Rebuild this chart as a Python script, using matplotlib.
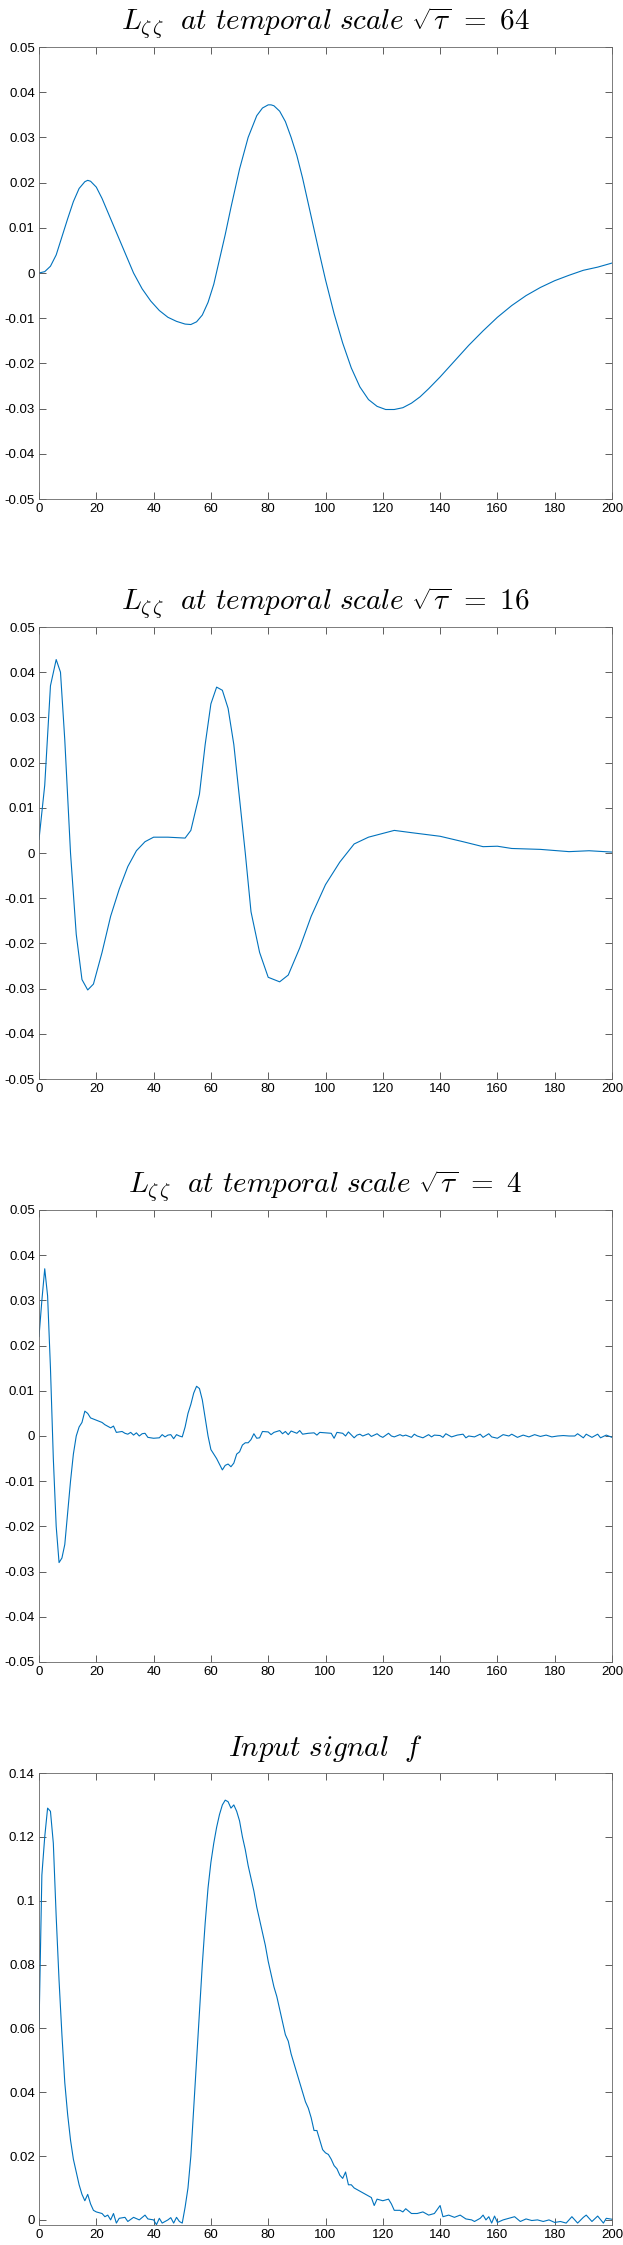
import matplotlib.pyplot as plt

plt.rcParams['mathtext.fontset'] = 'cm'
plt.rcParams['font.family'] = 'Liberation Sans'

# Panel 1: sqrt(tau) = 64
x64 = [0, 2, 4, 6, 8, 10, 12, 14, 16, 17, 18, 20, 22, 24, 27, 30, 33, 36, 39, 42, 45, 48, 51,
       53, 55, 57, 59, 61, 63, 65, 67, 70, 73, 76, 78, 80, 81, 82, 84, 86, 88, 90, 92, 95, 98,
       100, 103, 106, 109, 112, 115, 118, 121, 124, 127, 130, 133, 136, 140, 145, 150, 155, 160,
       165, 170, 175, 180, 185, 190, 195, 200]
y64 = [0, 0.0003, 0.0015, 0.004, 0.008, 0.012, 0.0158, 0.0187, 0.0202, 0.0205, 0.0203, 0.019,
       0.0165, 0.0135, 0.009, 0.0045, 0.0, -0.0035, -0.0062, -0.0083, -0.0098, -0.0107, -0.0113,
       -0.0114, -0.0108, -0.0093, -0.0065, -0.0025, 0.003, 0.0085, 0.0145, 0.023, 0.030, 0.0348,
       0.0365, 0.0372, 0.0372, 0.037, 0.0358, 0.0335, 0.030, 0.026, 0.021, 0.0125, 0.004, -0.0015,
       -0.009, -0.0155, -0.021, -0.0252, -0.028, -0.0295, -0.0302, -0.0302, -0.0298, -0.0288,
       -0.0274, -0.0256, -0.023, -0.0195, -0.016, -0.0128, -0.0098, -0.0072, -0.005, -0.0032,
       -0.0017, -0.0005, 0.0006, 0.0013, 0.0022]

# Panel 2: sqrt(tau) = 16
x16 = [0, 2, 4, 6, 7.5, 9, 11, 13, 15, 17, 19, 22, 25, 28, 31, 34, 37, 40, 45, 51, 53, 56, 58,
       60, 62, 64, 66, 68, 70, 72, 74, 77, 80, 84, 87, 91, 95, 100, 105, 110, 115, 124, 130, 140,
       148, 155, 160, 165, 175, 185, 192, 200]
y16 = [0.003, 0.015, 0.037, 0.0428, 0.040, 0.025, 0.0, -0.018, -0.028, -0.0303, -0.029, -0.022,
       -0.014, -0.008, -0.003, 0.0005, 0.0025, 0.0035, 0.0035, 0.0033, 0.005, 0.013, 0.024, 0.033,
       0.0367, 0.036, 0.032, 0.024, 0.012, 0.0, -0.013, -0.022, -0.0275, -0.0285, -0.027, -0.021,
       -0.014, -0.007, -0.002, 0.002, 0.0035, 0.005, 0.0045, 0.0037, 0.0025, 0.0014, 0.0015, 0.001,
       0.0008, 0.0003, 0.0005, 0.0002]

# Panel 3: sqrt(tau) = 4
x4 = [0, 1, 2, 3, 4, 5, 6, 7, 8, 9, 10, 11, 12, 13, 14, 15, 16, 17, 18, 20, 22, 23, 25, 26, 27,
      29, 30, 31, 32, 33, 34, 35, 36, 37, 38, 40, 42, 43, 44, 45, 46, 47, 48, 49, 50, 51, 52, 53,
      54, 55, 56, 57, 58, 59, 60, 62, 64, 65, 66, 67, 68, 69, 70, 71, 72, 73, 74, 75, 76, 77, 78,
      80, 81, 82, 84, 85, 86, 87, 88, 90, 91, 92, 94, 96, 97, 98, 100, 102, 103, 104, 106, 107,
      108, 110, 111, 112, 113, 115, 116, 118, 119, 120, 122, 123, 124, 126, 127, 128, 130, 131,
      132, 134, 136, 137, 138, 140, 141, 142, 144, 146, 148, 149, 150, 152, 154, 155, 157, 158,
      160, 162, 164, 165, 167, 169, 171, 173, 175, 177, 179, 181, 183, 185, 187, 188, 190, 191,
      193, 195, 196, 198, 200]
y4 = [0.022, 0.030, 0.037, 0.031, 0.015, -0.005, -0.020, -0.028, -0.027, -0.024, -0.017, -0.010,
      -0.004, 0.0, 0.002, 0.003, 0.0055, 0.005, 0.004, 0.0035, 0.003, 0.0025, 0.0018, 0.0022,
      0.0008, 0.001, 0.0006, 0.0004, 0.0008, 0.0002, 0.0007, 0.0, 0.0005, 0.0006, -0.0003, -0.0005,
      -0.0004, 0.0003, -0.0002, 0.0002, 0.0003, -0.0006, 0.0003, 0.0, -0.0002, 0.002, 0.005, 0.007,
      0.0095, 0.011, 0.0105, 0.008, 0.004, 0.0, -0.003, -0.005, -0.0075, -0.0065, -0.0062, -0.0068,
      -0.006, -0.004, -0.0035, -0.002, -0.0015, -0.0015, -0.0008, 0.0005, -0.0005, -0.0004, 0.001,
      0.0009, 0.0003, 0.0008, 0.0012, 0.0005, 0.001, 0.0003, 0.0011, 0.0006, 0.0012, 0.0004, 0.0006,
      0.0007, 0.0002, 0.0008, 0.0007, 0.0006, -0.0005, 0.0008, 0.0006, 0.0, 0.0009, -0.0004, 0.0002,
      0.0004, 0.0, 0.0005, -0.0001, 0.0005, 0.0, -0.0003, 0.0006, 0.0, -0.0002, 0.0003, 0.0, 0.0002,
      -0.0003, 0.0004, 0.0, -0.0004, 0.0003, -0.0002, 0.0002, 0.0001, -0.0003, 0.0005, -0.0002,
      0.0002, 0.0004, -0.0004, 0.0, -0.0002, 0.0004, -0.0003, 0.0005, -0.0002, -0.0005, 0.0003,
      0.0, 0.0004, -0.0003, 0.0002, -0.0002, 0.0003, -0.0001, 0.0002, -0.0002, 0.0, 0.0001, 0.0,
      0.0, 0.0005, -0.0004, 0.0004, -0.0003, 0.0004, -0.0004, 0.0002, -0.0003, 0.0003]

# Panel 4: input signal
xf = [0, 1, 2, 3, 4, 5, 6, 7, 8, 9, 10, 11, 12, 13, 14, 15, 16, 17, 18, 19, 20, 22, 23, 24, 25,
      26, 27, 28, 30, 31, 33, 35, 37, 38, 40, 41, 42, 43, 45, 46, 47, 48, 49, 50, 51, 52, 53, 54,
      55, 56, 57, 58, 59, 60, 61, 62, 63, 64, 65, 66, 67, 68, 69, 70, 71, 72, 73, 74, 75, 76, 77,
      78, 79, 80, 81, 82, 83, 84, 85, 86, 87, 88, 89, 90, 91, 92, 93, 94, 95, 96, 97, 98, 99, 100,
      101, 102, 103, 104, 105, 106, 107, 108, 109, 110, 112, 114, 116, 117, 118, 120, 122, 123,
      124, 126, 127, 128, 130, 132, 134, 136, 138, 140, 141, 143, 145, 147, 149, 151, 152, 154,
      155, 156, 157, 158, 159, 160, 162, 164, 166, 168, 170, 172, 174, 176, 178, 180, 182, 184,
      186, 188, 190, 191, 193, 195, 197, 198, 200]
yf = [0.06, 0.108, 0.12, 0.129, 0.128, 0.118, 0.095, 0.075, 0.058, 0.043, 0.033, 0.025, 0.019,
      0.015, 0.011, 0.008, 0.006, 0.008, 0.005, 0.003, 0.0025, 0.002, 0.001, 0.0015, 0.0, 0.002,
      -0.001, 0.0005, 0.0008, -0.0005, 0.0008, 0.0, 0.0015, 0.0003, 0.0, -0.0015, 0.0005, -0.001,
      0.0, 0.0007, -0.001, 0.0008, -0.0005, -0.001, 0.004, 0.01, 0.02, 0.035, 0.05, 0.065, 0.08,
      0.093, 0.104, 0.112, 0.118, 0.123, 0.127, 0.130, 0.1315, 0.131, 0.129, 0.130, 0.128, 0.125,
      0.12, 0.116, 0.111, 0.107, 0.103, 0.098, 0.094, 0.09, 0.086, 0.081, 0.077, 0.073, 0.07,
      0.066, 0.062, 0.058, 0.056, 0.052, 0.049, 0.046, 0.043, 0.04, 0.037, 0.035, 0.032, 0.028,
      0.028, 0.025, 0.022, 0.021, 0.0205, 0.019, 0.017, 0.016, 0.014, 0.013, 0.015, 0.011, 0.011,
      0.01, 0.009, 0.008, 0.007, 0.0045, 0.0065, 0.006, 0.0065, 0.005, 0.003, 0.003, 0.0025,
      0.0035, 0.002, 0.002, 0.0025, 0.0015, 0.002, 0.0045, 0.001, 0.0015, 0.0008, 0.0015, 0.0003,
      0.0, -0.0005, 0.0005, 0.0015, 0.0, 0.001, -0.001, 0.0012, -0.0008, 0.0, 0.0005, 0.001,
      -0.0005, 0.0003, -0.0002, 0.0, -0.0005, 0.0, -0.0008, -0.0005, -0.001, 0.001, -0.001, 0.0008,
      0.0015, -0.0005, 0.0012, -0.001, 0.0005, 0.0002]

titles = [r"$L_{\zeta\,\zeta}\ \ \mathit{at\ temporal\ scale}\ \sqrt{\tau}\ =\ 64$",
          r"$L_{\zeta\,\zeta}\ \ \mathit{at\ temporal\ scale}\ \sqrt{\tau}\ =\ 16$",
          r"$L_{\zeta\,\zeta}\ \ \mathit{at\ temporal\ scale}\ \sqrt{\tau}\ =\ 4$",
          r"$\mathit{Input\ signal}\ \ f$"]
series = [(x64, y64), (x16, y16), (x4, y4), (xf, yf)]
tops = [47, 627, 1210, 1773]

W, H = 623, 2245
fig = plt.figure(figsize=(W / 100, H / 100), dpi=100)
blue = (0, 0.447, 0.741)
yticks_l = [-0.05, -0.04, -0.03, -0.02, -0.01, 0, 0.01, 0.02, 0.03, 0.04, 0.05]

for i, ((xs, ys), title, top) in enumerate(zip(series, titles, tops)):
    n = min(len(xs), len(ys))
    ax = fig.add_axes([39 / W, 1 - (top + 452) / H, 573 / W, 452 / H])
    ax.plot(xs[:n], ys[:n], color=blue, lw=0.8)
    ax.set_xlim(0, 200)
    ax.set_xticks(range(0, 201, 20))
    if i < 3:
        ax.set_ylim(-0.05, 0.05)
        ax.set_yticks(yticks_l)
        ax.set_yticklabels(['0' if v == 0 else f"{v:g}" for v in yticks_l])
    else:
        ax.set_ylim(-0.0016, 0.14)
        yt = [0, 0.02, 0.04, 0.06, 0.08, 0.1, 0.12, 0.14]
        ax.set_yticks(yt)
        ax.set_yticklabels([f"{v:g}" for v in yt])
    ax.tick_params(direction='in', top=True, right=True, labelsize=9.5, length=5,
                   width=0.6, color='#444444', pad=3)
    for s in ax.spines.values():
        s.set_color('#666666')
        s.set_linewidth(0.6)
    ax.set_title(title, fontsize=21, pad=12)

fig.savefig("out.png", dpi=100)
